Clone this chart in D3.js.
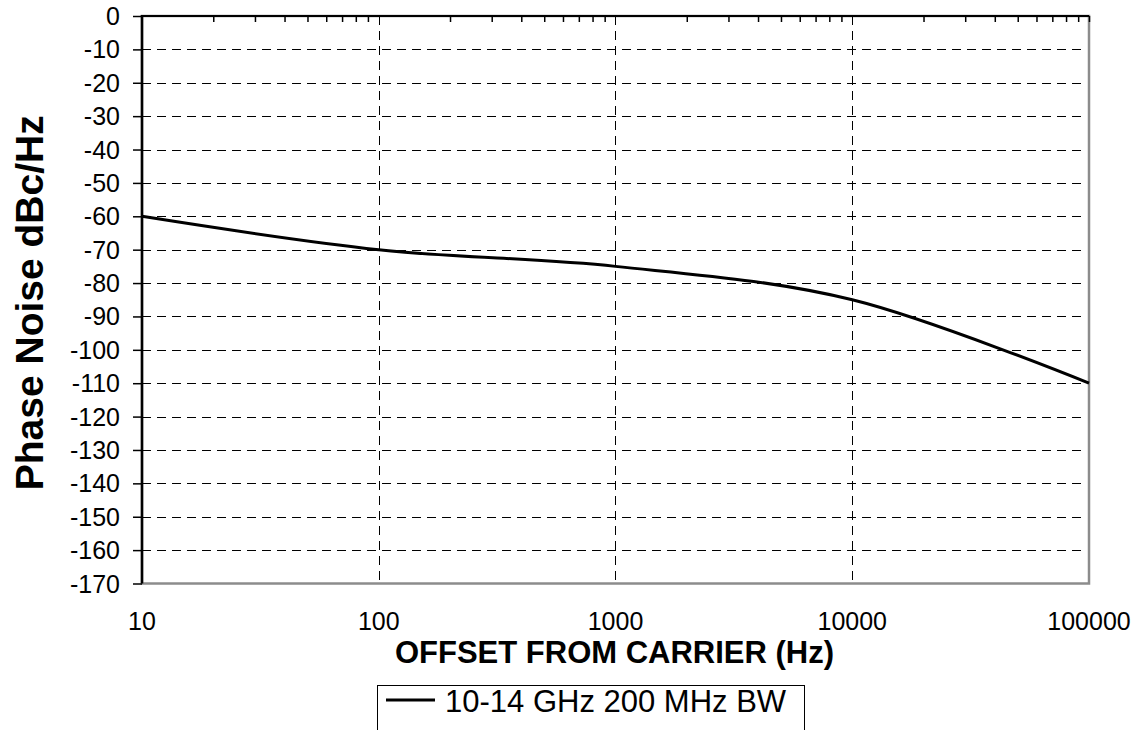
<!DOCTYPE html>
<html>
<head>
<meta charset="utf-8">
<script src="https://cdn.jsdelivr.net/npm/d3@7"></script>
<style>
  html, body { margin: 0; padding: 0; background: #fff; }
  svg { display: block; font-family: "Liberation Sans", Arial, sans-serif; }
</style>
</head>
<body>
<svg id="chart" width="1139" height="730"></svg>
<script>
// ---- data ----
const offsets = [10, 100, 1000, 10000, 100000];
const phaseNoise = [-60, -70, -75, -85, -110];
const seriesName = "10-14 GHz 200 MHz BW";
const xTickValues = [10, 100, 1000, 10000, 100000];
const xTickLabels = ["10", "100", "1000", "10000", "100000"];
const yTickValues = [0, -10, -20, -30, -40, -50, -60, -70, -80, -90, -100, -110, -120, -130, -140, -150, -160, -170];
const xTitle = "OFFSET FROM CARRIER (Hz)";
const yTitle = "Phase Noise dBc/Hz";

const svg = d3.select("#chart");
const L = 142, R = 1089, T = 16, B = 583.5;

const x = d3.scaleLog().domain([10, 100000]).range([L, R]);
const y = d3.scaleLinear().domain([-170, 0]).range([B, T]);
const fmt = v => String(v); // plain hyphen-minus

// plot area border (gray)
svg.append("rect")
  .attr("x", L).attr("y", T).attr("width", R - L).attr("height", B - T)
  .attr("fill", "none").attr("stroke", "#8c8c8c").attr("stroke-width", 2.5);

// horizontal gridlines
svg.append("g").selectAll("line")
  .data(yTickValues.filter(v => v < 0 && v > -170))
  .join("line")
  .attr("x1", L).attr("x2", R - 2)
  .attr("y1", d => Math.round(y(d)) + 0.5).attr("y2", d => Math.round(y(d)) + 0.5)
  .attr("stroke", "#000").attr("stroke-width", 1)
  .attr("stroke-dasharray", "9,6");

// vertical gridlines
svg.append("g").selectAll("line")
  .data(xTickValues.filter(v => v > 10 && v < 100000))
  .join("line")
  .attr("x1", d => Math.round(x(d)) + 0.5).attr("x2", d => Math.round(x(d)) + 0.5)
  .attr("y1", T).attr("y2", B - 1)
  .attr("stroke", "#000").attr("stroke-width", 1)
  .attr("stroke-dasharray", "9,6");

// top axis with minor ticks pointing inside
const minorTicks = [];
for (let dec = 10; dec < 100000; dec *= 10) {
  for (let k = 2; k <= 9; k++) minorTicks.push(dec * k);
}
minorTicks.push(100000);
const topAxis = d3.axisBottom(x).tickValues(minorTicks).tickSize(6).tickFormat("");
const gTop = svg.append("g").attr("transform", `translate(0,${T})`).call(topAxis);
gTop.select(".domain").remove();
gTop.selectAll(".tick line").attr("stroke", "#000").attr("stroke-width", 1.5);
svg.append("line").attr("x1", L - 1).attr("x2", R).attr("y1", T).attr("y2", T)
  .attr("stroke", "#000").attr("stroke-width", 2);

// x tick labels (bottom)
svg.append("g").selectAll("text")
  .data(xTickValues)
  .join("text")
  .attr("x", d => x(d)).attr("y", 630)
  .attr("text-anchor", "middle")
  .attr("font-size", 25)
  .attr("fill", "#000")
  .text((d, i) => xTickLabels[i]);

// left axis
const leftAxis = d3.axisLeft(y).tickValues(yTickValues).tickSize(9).tickPadding(13)
  .tickFormat(fmt);
const gLeft = svg.append("g").attr("transform", `translate(${L},0)`).call(leftAxis);
gLeft.select(".domain").remove();
gLeft.selectAll(".tick line").attr("stroke", "#000").attr("stroke-width", 1.5);
gLeft.selectAll(".tick text")
  .attr("font-size", 25).attr("font-family", "Liberation Sans, Arial, sans-serif")
  .attr("fill", "#000").attr("dy", "0.34em");
svg.append("line").attr("x1", L).attr("x2", L).attr("y1", T - 1).attr("y2", B)
  .attr("stroke", "#000").attr("stroke-width", 2.5);

// series line
const line = d3.line()
  .x((d, i) => x(offsets[i]))
  .y(d => y(d))
  .curve(d3.curveCardinal.tension(0));
svg.append("path")
  .datum(phaseNoise)
  .attr("d", line)
  .attr("fill", "none").attr("stroke", "#000").attr("stroke-width", 3);

// axis titles
svg.append("text")
  .attr("x", (L + R) / 2 - 1).attr("y", 663)
  .attr("text-anchor", "middle").attr("font-size", 31).attr("font-weight", "bold")
  .attr("fill", "#000")
  .text(xTitle);

svg.append("text")
  .attr("transform", `translate(43,${(T + B) / 2 + 3}) rotate(-90)`)
  .attr("text-anchor", "middle").attr("font-size", 39).attr("font-weight", "bold")
  .attr("fill", "#000")
  .text(yTitle);

// legend
const lg = svg.append("g");
lg.append("rect")
  .attr("x", 377.5).attr("y", 685.5).attr("width", 427).attr("height", 60)
  .attr("fill", "#fff").attr("stroke", "#000").attr("stroke-width", 1);
lg.append("line")
  .attr("x1", 386).attr("x2", 435).attr("y1", 700).attr("y2", 700)
  .attr("stroke", "#000").attr("stroke-width", 3);
lg.append("text")
  .attr("x", 445).attr("y", 712)
  .attr("font-size", 31).attr("fill", "#000")
  .text(seriesName);
</script>
</body>
</html>
